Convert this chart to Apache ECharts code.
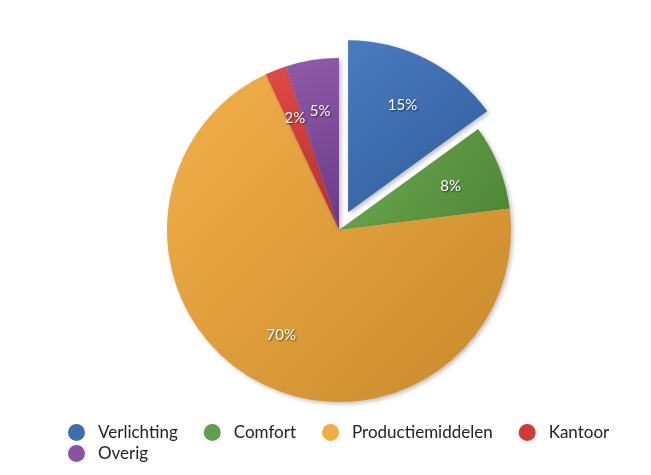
<!DOCTYPE html>
<html><head><meta charset="utf-8">
<script src="https://cdn.jsdelivr.net/npm/echarts@6/dist/echarts.min.js"></script>
<style>html,body{margin:0;padding:0;background:#fff}#c{width:651px;height:475px}</style>
</head><body><div id="c"></div>
<script>
const categories = ['Verlichting', 'Comfort', 'Productiemiddelen', 'Kantoor', 'Overig'];
const values = [15, 8, 70, 2, 5];
const colors = [['#4a7cc0', '#2f5b9a'], ['#6eab52', '#4d8535'], ['#f2b04a', '#c98a2a'], ['#e04a45', '#b8302b'], ['#8f5aa8', '#6a3a85']];
const legendColors = ['#3d6fb0', '#5fa04a', '#f0ae40', '#d23a36', '#8a52a2'];

const chart = echarts.init(document.getElementById('c'), null, {renderer: 'canvas'});
const font = 'Lato, "Open Sans", sans-serif';
const mkData = (transparent) => categories.map((n, i) => ({
  name: n, value: values[i], selected: i === 0,
  itemStyle: transparent ? {color: 'rgba(0,0,0,0)'} : {
    color: new echarts.graphic.LinearGradient(0, 0, 1, 1, [
      {offset: 0, color: colors[i][0]}, {offset: 1, color: colors[i][1]}
    ]),
    shadowColor: 'rgba(0,0,0,0.25)', shadowBlur: 4, shadowOffsetX: 2, shadowOffsetY: 2
  }
}));
const legendBase = {
  icon: 'circle', itemWidth: 17, itemHeight: 17, itemGap: 26,
  textStyle: {fontFamily: font, fontSize: 17, color: '#222', padding: [0, 0, 0, 8]}
};
const legendItems = categories.map((n, i) => ({name: n, itemStyle: {color: legendColors[i]}}));
chart.setOption({
  animation: false,
  backgroundColor: '#fff',
  legend: [
    Object.assign({data: legendItems.slice(0, 4), left: 63, top: 419}, legendBase),
    Object.assign({data: legendItems.slice(4), left: 63, top: 440}, legendBase)
  ],
  series: [{
    type: 'pie', center: [339, 230], radius: 172, startAngle: 90, clockwise: true,
    selectedMode: 'single', selectedOffset: 20, silent: true,
    label: {show: false}, labelLine: {show: false},
    data: mkData(false)
  }, {
    type: 'pie', center: [339, 230], radius: [62, 172], startAngle: 90, clockwise: true,
    selectedMode: 'single', selectedOffset: 20, silent: true,
    label: {show: true, position: 'inside', formatter: '{c}%', color: '#fff',
      fontFamily: font, fontSize: 15, textShadowColor: 'rgba(0,0,0,0.6)', textShadowBlur: 2, textShadowOffsetX: 1, textShadowOffsetY: 1},
    labelLine: {show: false},
    data: mkData(true)
  }]
});
</script></body></html>
